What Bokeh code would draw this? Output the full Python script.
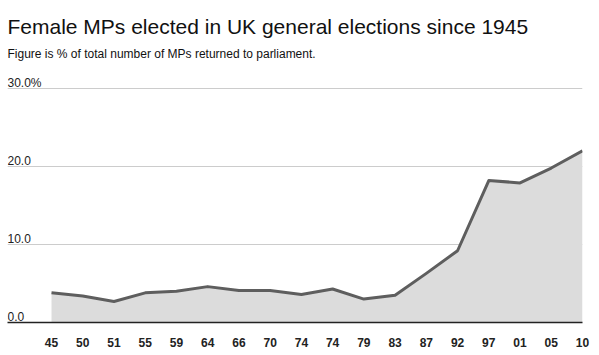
from bokeh.plotting import figure
from bokeh.models import ColumnDataSource, FixedTicker, Label
from bokeh.core.properties import value
from bokeh.embed import file_html
from bokeh.resources import INLINE

# ---- data ----
years = ["45", "50", "51", "55", "59", "64", "66", "70", "74", "74",
         "79", "83", "87", "92", "97", "01", "05", "10"]
female_pct = [3.8, 3.4, 2.7, 3.8, 4.0, 4.6, 4.1, 4.1, 3.6, 4.3,
              3.0, 3.5, 6.3, 9.2, 18.2, 17.9, 19.8, 22.0]
y_ticks = [0, 10, 20, 30]
y_tick_labels = ["0.0", "10.0", "20.0", "30.0%"]
title_text = "Female MPs elected in UK general elections since 1945"
subtitle_text = "Figure is % of total number of MPs returned to parliament."

FONT = "Liberation Sans"

idx = list(range(len(years)))
src = ColumnDataSource(dict(x=idx, y=female_pct, base=[0] * len(idx)))

W, H = 599, 355
left_px, right_px, top_px, bottom_px = 7, 582, 0, 322
first_px = 51
unit_x = (right_px - first_px) / (len(years) - 1)
x_start = -(first_px - left_px) / unit_x
unit_y = 7.8
y_end = (bottom_px - top_px) / unit_y

p = figure(width=W, height=H, output_backend="svg", toolbar_location=None,
           x_range=(x_start, len(years) - 1), y_range=(0, y_end),
           min_border_left=left_px, min_border_right=W - right_px,
           min_border_top=top_px, min_border_bottom=H - bottom_px,
           background_fill_color="white", border_fill_color="white")
p.outline_line_color = None

# area and line
p.varea(x="x", y1="base", y2="y", source=src, fill_color="#dcdcdc")
p.line(x="x", y="y", source=src, line_color="#5e5e5e", line_width=3,
       line_join="round")

# grid
p.xgrid.visible = False
p.ygrid.ticker = FixedTicker(ticks=y_ticks[1:])
p.ygrid.grid_line_color = "#cccccc"
p.ygrid.grid_line_width = 1
p.yaxis.visible = False

# x axis
xa = p.xaxis[0]
xa.ticker = FixedTicker(ticks=idx)
xa.major_label_overrides = {i: years[i] for i in idx}
xa.major_tick_out = 0
xa.major_tick_in = 0
xa.minor_tick_out = 0
xa.minor_tick_in = 0
xa.axis_line_color = "#222222"
xa.axis_line_width = 1.5
xa.major_label_standoff = 15
xa.major_label_text_font = FONT
xa.major_label_text_font_style = "bold"
xa.major_label_text_font_size = "12px"
xa.major_label_text_color = "#222222"

# y tick labels above gridlines
p.text(x=[x_start] * len(y_ticks), y=y_ticks, text=y_tick_labels,
       text_font=value(FONT), text_font_size="12px", text_color="#222222",
       text_align="left", text_baseline="alphabetic", y_offset=-6)

# title and subtitle
p.add_layout(Label(x=0, y=bottom_px - 26, x_units="screen", y_units="screen",
                   text=title_text, text_font=FONT, text_font_size="21px",
                   text_color="#111111", text_baseline="alphabetic"))
p.add_layout(Label(x=0, y=bottom_px - 53, x_units="screen", y_units="screen",
                   text=subtitle_text, text_font=FONT, text_font_size="12px",
                   text_color="#111111", text_baseline="alphabetic"))

open("out.html", "w").write(file_html(p, INLINE))
